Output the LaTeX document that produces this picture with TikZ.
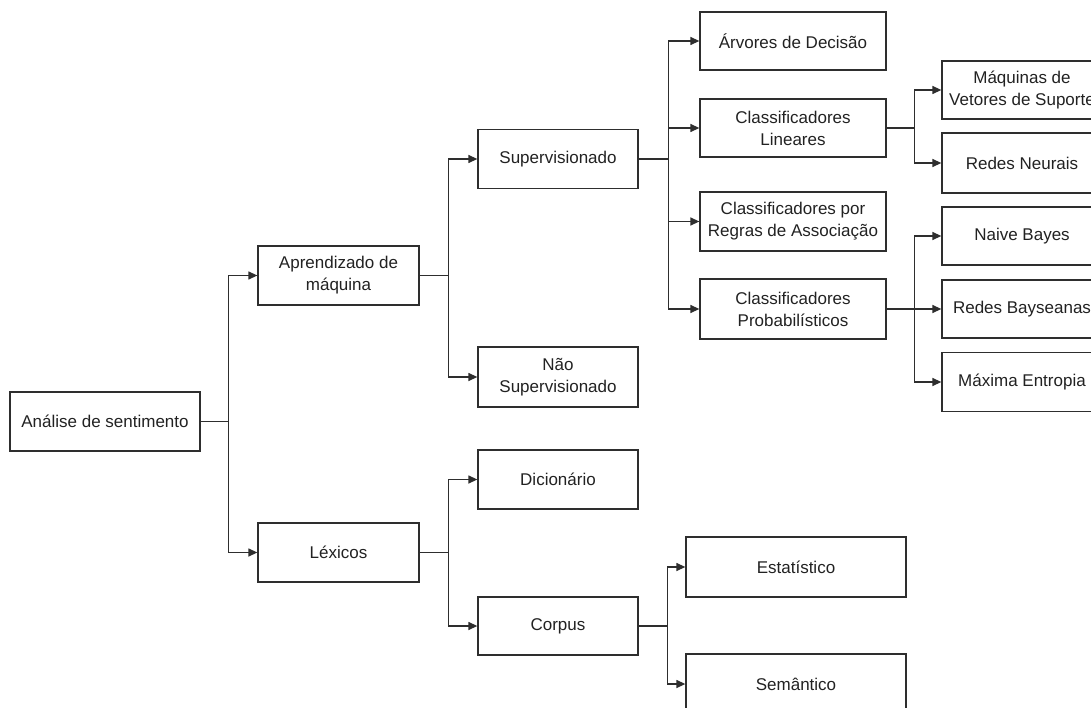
\documentclass[tikz,border=0pt]{standalone}
\usepackage{fontspec}
\setmainfont{Liberation Sans}
\usetikzlibrary{arrows.meta}
\definecolor{ln}{HTML}{2E2E2E}
\definecolor{tx}{HTML}{222222}
\begin{document}
\begin{tikzpicture}[x=1pt,y=-1pt,
  box/.style={draw=ln, line width=1.3pt, fill=white, inner sep=0pt, align=center,
    text=tx, font=\fontsize{17}{22}\selectfont},
  conn/.style={draw=ln, line width=1.3pt},
  arr/.style={conn, -{Triangle[length=9pt,width=8pt]}}]
\useasboundingbox (0,0) rectangle (1091,708);
\fill[white] (0,0) rectangle (1091,708);
\clip (0,0) rectangle (1091,708);
% nodes
\node[box, minimum width=190pt, minimum height=59pt] (ana) at (105,421.5) {Análise de sentimento};
\node[box, minimum width=161pt, minimum height=59pt] (apr) at (338.5,275.5) {Aprendizado de\\máquina};
\node[box, minimum width=161pt, minimum height=59pt] (lex) at (338.5,552.5) {Léxicos};
\node[box, minimum width=160pt, minimum height=59pt] (sup) at (558,159) {Supervisionado};
\node[box, minimum width=160pt, minimum height=60pt] (nsup) at (558,377) {Não\\Supervisionado};
\node[box, minimum width=160pt, minimum height=59pt] (dic) at (558,479.5) {Dicionário};
\node[box, minimum width=160pt, minimum height=58pt] (corp) at (558,626) {Corpus};
\node[box, minimum width=186pt, minimum height=58pt] (arv) at (793,41) {Árvores de Decisão};
\node[box, minimum width=186pt, minimum height=58pt] (lin) at (793,128) {Classificadores\\Lineares};
\node[box, minimum width=186pt, minimum height=59pt] (reg) at (793,221.5) {Classificadores por\\Regras de Associação};
\node[box, minimum width=186pt, minimum height=60pt] (prob) at (793,309) {Classificadores\\Probabilísticos};
\node[box, minimum width=220pt, minimum height=60pt] (est) at (796,567) {Estatístico};
\node[box, minimum width=220pt, minimum height=60pt] (sem) at (796,684) {Semântico};
\node[box, minimum width=160pt, minimum height=58pt] (maq) at (1022,90) {Máquinas de\\Vetores de Suporte};
\node[box, minimum width=160pt, minimum height=60pt] (neu) at (1022,163) {Redes Neurais};
\node[box, minimum width=160pt, minimum height=58pt] (nb) at (1022,236) {Naive Bayes};
\node[box, minimum width=160pt, minimum height=58pt] (rb) at (1022,309) {Redes Bayseanas};
\node[box, minimum width=160pt, minimum height=59pt] (me) at (1022,382) {Máxima Entropia};
% junctions
\path (ana.east) ++(28,0) coordinate (j1);
\path (apr.east) ++(29,0) coordinate (j2);
\path (lex.east) ++(29,0) coordinate (j3);
\path (sup.east) ++(30,0) coordinate (j4);
\path (corp.east) ++(29,0) coordinate (j5);
\path (lin.east) ++(28,0) coordinate (j6);
\path (prob.east) ++(28,0) coordinate (j7);
% connectors
\draw[conn] (ana.east) -- (j1);
\draw[arr] (j1) |- (apr.west);
\draw[arr] (j1) |- (lex.west);
\draw[conn] (apr.east) -- (j2);
\draw[arr] (j2) |- (sup.west);
\draw[arr] (j2) |- (nsup.west);
\draw[conn] (lex.east) -- (j3);
\draw[arr] (j3) |- (dic.west);
\draw[arr] (j3) |- (corp.west);
\draw[conn] (sup.east) -- (j4);
\draw[arr] (j4) |- (arv.west);
\draw[arr] (j4) |- (lin.west);
\draw[arr] (j4) |- (reg.west);
\draw[arr] (j4) |- (prob.west);
\draw[conn] (corp.east) -- (j5);
\draw[arr] (j5) |- (est.west);
\draw[arr] (j5) |- (sem.west);
\draw[conn] (lin.east) -- (j6);
\draw[arr] (j6) |- (maq.west);
\draw[arr] (j6) |- (neu.west);
\draw[conn] (prob.east) -- (j7);
\draw[arr] (j7) |- (nb.west);
\draw[arr] (j7) |- (rb.west);
\draw[arr] (j7) |- (me.west);
\end{tikzpicture}
\end{document}
